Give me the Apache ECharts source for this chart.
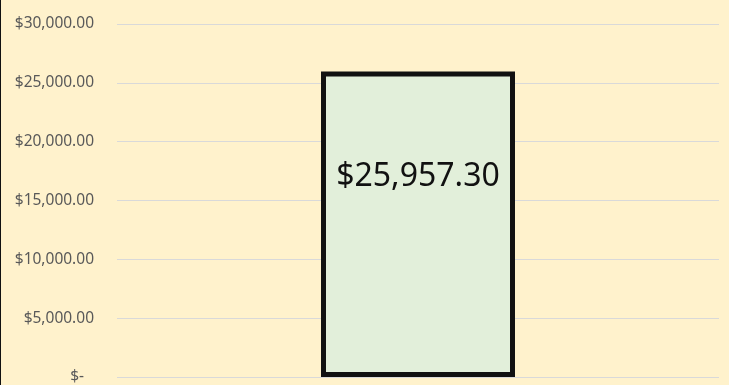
<!DOCTYPE html>
<html><head><meta charset="utf-8">
<script src="https://cdn.jsdelivr.net/npm/echarts@6/dist/echarts.min.js"></script>
<style>html,body{margin:0;padding:0;background:#FFF2CC;}#c{width:729px;height:385px;box-sizing:border-box;border-left:1px solid #111;}</style>
</head><body><div id="c"></div>
<script>
const categories = ['Total'];
const values = [25957.30];
const yTicks = [0, 5000, 10000, 15000, 20000, 25000, 30000];

function money(v){
  return '$' + v.toLocaleString('en-US',{minimumFractionDigits:2,maximumFractionDigits:2});
}
function fmt(v){
  if (v === 0) return '{z|$-}';
  return money(v);
}
const chart = echarts.init(document.getElementById('c'));
chart.setOption({
  backgroundColor:'#FFF2CC',
  animation:false,
  grid:{left:116,right:10,top:24,bottom:8,containLabel:false},
  xAxis:{type:'category',data:categories,axisLine:{show:false},axisTick:{show:false},axisLabel:{show:false}},
  yAxis:{type:'value',min:yTicks[0],max:yTicks[yTicks.length-1],interval:5000,
    axisLine:{show:false},axisTick:{show:false},
    splitLine:{lineStyle:{color:'#D9D9D9',width:1}},
    axisLabel:{margin:23,color:'#595959',fontFamily:'Noto Sans',fontSize:15.5,formatter:fmt,
      rich:{z:{color:'#595959',fontFamily:'Noto Sans',fontSize:15.5,padding:[0,10,0,0]}}}},
  series:[{type:'bar',data:values,barWidth:194,
    itemStyle:{color:'#E2EFDA',borderColor:'#111111',borderWidth:5},
    label:{show:true,position:['50%',105],align:'center',verticalAlign:'middle',
      fontFamily:'Noto Sans',fontSize:32,color:'#111',
      formatter:p=>money(p.value)}}]
});
</script></body></html>
